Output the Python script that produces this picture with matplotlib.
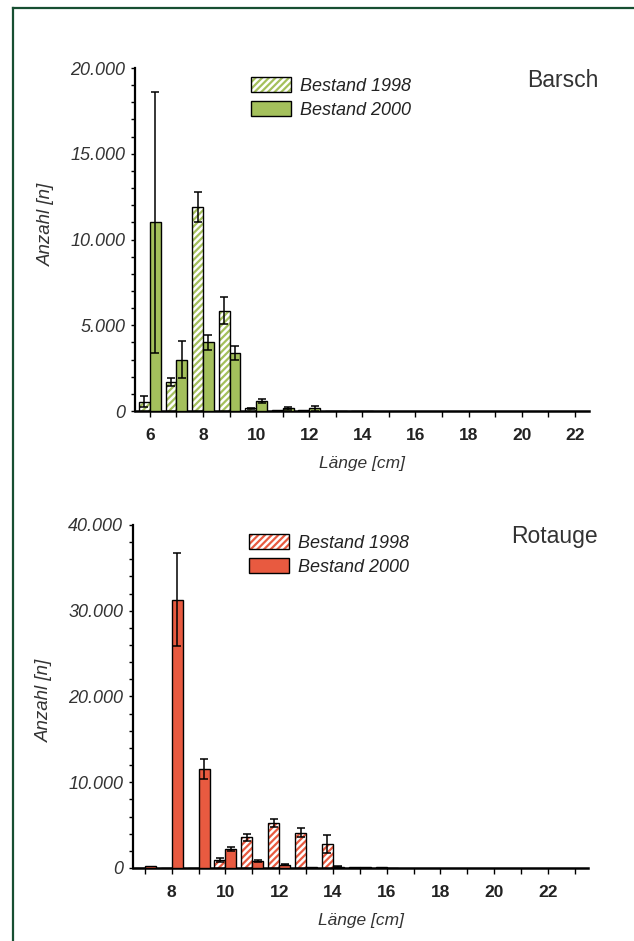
import numpy as np
import matplotlib
matplotlib.use("Agg")
import matplotlib.pyplot as plt
from matplotlib.lines import Line2D
from matplotlib.patches import Patch
from matplotlib.ticker import MultipleLocator, FuncFormatter

# Barsch (perch), counts per length class
barsch_len = [6, 7, 8, 9, 10, 11, 12, 13, 14]
barsch_1998 = [550, 1700, 11900, 5850, 150, 80, 60, 20, 10]
barsch_1998_err = [300, 250, 900, 800, 50, 0, 0, 0, 0]
barsch_2000 = [11000, 3000, 4000, 3400, 600, 150, 150, 30, 15]
barsch_2000_err = [7600, 1100, 450, 400, 120, 80, 170, 0, 0]

# Rotauge (roach)
rot_len = [7, 8, 9, 10, 11, 12, 13, 14, 15, 16]
rot_1998 = [0, 0, 0, 930, 3580, 5250, 4120, 2840, 150, 100]
rot_1998_err = [0, 0, 0, 200, 400, 490, 520, 1050, 0, 0]
rot_2000 = [200, 31300, 11500, 2250, 850, 390, 120, 150, 80, 30]
rot_2000_err = [0, 5400, 1170, 230, 100, 80, 0, 50, 0, 0]

GREEN = "#a4c05c"
RED = "#e85a40"
TXT = "#222222"

plt.rcParams["font.family"] = ["Liberation Sans", "DejaVu Sans"]
plt.rcParams["hatch.linewidth"] = 1.6

fig = plt.figure(figsize=(6.34, 9.41), dpi=100)

# dark green frame on top and left
fig.add_artist(Line2D([13 / 634, 1.0], [1 - 8 / 941, 1 - 8 / 941], color="#174f32", lw=1.6))
fig.add_artist(Line2D([13 / 634, 13 / 634], [0, 1 - 8 / 941], color="#174f32", lw=1.6))

thousands = FuncFormatter(lambda v, p: "{:,.0f}".format(v).replace(",", "."))
W = 0.41


def panel(rect, lens, v98, e98, v00, e00, color, xlim, ymax, ymin_step, title, ylab_y):
    ax = fig.add_axes(rect)
    x = np.array(lens, dtype=float)
    # 1998: hatched
    ax.bar(x - W / 2, v98, W, facecolor="white", edgecolor=color, hatch="/////", lw=0, zorder=2)
    ax.bar(x - W / 2, v98, W, fill=False, edgecolor="black", lw=1, zorder=3)
    # 2000: solid
    ax.bar(x + W / 2, v00, W, facecolor=color, edgecolor="black", lw=1, zorder=3)
    for off, v, e in [(-W / 2, v98, e98), (W / 2, v00, e00)]:
        m = np.array(e) > 0
        ax.errorbar((x + off)[m], np.array(v)[m], yerr=np.array(e)[m], fmt="none",
                    ecolor="black", elinewidth=1.1, capsize=3, capthick=1.1, zorder=4)

    ax.set_xlim(*xlim)
    ax.set_ylim(0, ymax)
    for s in ["top", "right"]:
        ax.spines[s].set_visible(False)
    ax.spines["left"].set_linewidth(1.6)
    ax.spines["bottom"].set_linewidth(1.8)

    ax.xaxis.set_major_locator(MultipleLocator(2))
    ax.xaxis.set_minor_locator(MultipleLocator(1))
    ax.yaxis.set_major_locator(MultipleLocator(ymax / 4))
    ax.yaxis.set_minor_locator(MultipleLocator(ymin_step))
    ax.yaxis.set_major_formatter(thousands)
    ax.tick_params(axis="x", which="both", direction="out", length=4, width=1, pad=8)
    ax.tick_params(axis="y", which="both", direction="out", length=3, width=1, pad=4)
    for t in ax.get_xticklabels():
        t.set_fontweight("bold")
        t.set_fontsize(12.5)
        t.set_color(TXT)
    for t in ax.get_yticklabels():
        t.set_fontstyle("italic")
        t.set_fontsize(13)
        t.set_color("#333333")

    ax.set_xlabel("Länge [cm]", fontsize=12.5, style="italic", color="#333333")
    ax.xaxis.set_label_coords(0.5, -0.131)
    ax.xaxis.label.set_va("top")
    ax.set_ylabel("Anzahl [n]", fontsize=13.5, style="italic", color="#333333")
    ax.yaxis.set_label_coords(-0.176, ylab_y)

    ax.text(1.022, 0.965, title, transform=ax.transAxes, ha="right", va="center",
            fontsize=16.5, color="#333333")

    h98 = (Patch(facecolor="white", edgecolor=color, hatch="/////", lw=0),
           Patch(fill=False, edgecolor="black", lw=1))
    h00 = Patch(facecolor=color, edgecolor="black", lw=1)
    leg = ax.legend([h98, h00], ["Bestand 1998", "Bestand 2000"], loc="upper left",
                    bbox_to_anchor=(0.236, 1.0), frameon=False, borderpad=0,
                    handlelength=2.2, handleheight=0.9, labelspacing=0.35,
                    handletextpad=0.5, prop={"size": 13, "style": "italic"})
    for t in leg.get_texts():
        t.set_color(TXT)
    return ax


panel([0.2129, 0.5632, 0.716, 0.3645], barsch_len, barsch_1998, barsch_1998_err,
      barsch_2000, barsch_2000_err, GREEN, (5.44, 22.53), 20000, 1000, "Barsch", 0.545)
panel([0.2098, 0.0776, 0.7177, 0.3645], rot_len, rot_1998, rot_1998_err,
      rot_2000, rot_2000_err, RED, (6.56, 23.49), 40000, 2000, "Rotauge", 0.49)

fig.savefig("out.png", dpi=100)
